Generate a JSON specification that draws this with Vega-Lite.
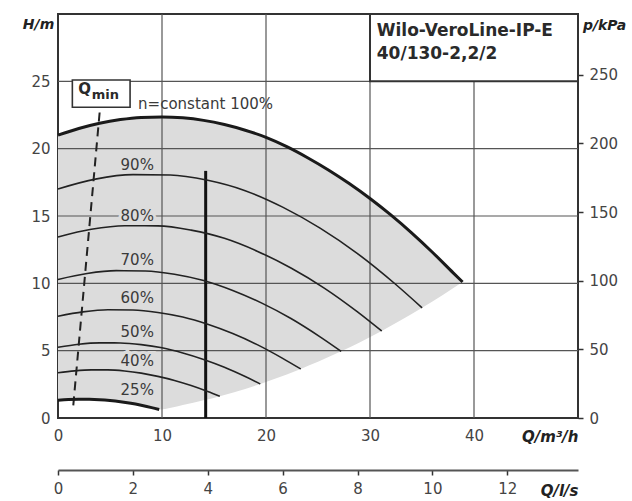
{
  "$schema": "https://vega.github.io/schema/vega-lite/v6.json",
  "width": 520,
  "height": 404,
  "autosize": {"type": "none"},
  "padding": {"left": 58, "top": 14, "right": 54, "bottom": 83},
  "background": "white",
  "config": {"view": {"stroke": "#333333", "strokeWidth": 2}, "font": "DejaVu Sans"},
  "datasets": {
    "area": [
      {"q": 0, "h": 21.0, "hb": 1.31}, {"q": 1, "h": 21.26, "hb": 1.37}, {"q": 2, "h": 21.5, "hb": 1.39},
      {"q": 3, "h": 21.71, "hb": 1.39}, {"q": 4, "h": 21.89, "hb": 1.36}, {"q": 5, "h": 22.04, "hb": 1.3},
      {"q": 6, "h": 22.16, "hb": 1.2}, {"q": 7, "h": 22.25, "hb": 1.08}, {"q": 8, "h": 22.32, "hb": 0.93},
      {"q": 9, "h": 22.35, "hb": 0.76}, {"q": 9.73, "h": 22.36, "hb": 0.63}, {"q": 12, "h": 22.29, "hb": 0.96},
      {"q": 14, "h": 22.1, "hb": 1.31}, {"q": 15.56, "h": 21.87, "hb": 1.62}, {"q": 18, "h": 21.37, "hb": 2.16},
      {"q": 19.45, "h": 20.99, "hb": 2.53}, {"q": 22, "h": 20.15, "hb": 3.23}, {"q": 23.34, "h": 19.6, "hb": 3.64},
      {"q": 25, "h": 18.88, "hb": 4.17}, {"q": 27.23, "h": 17.8, "hb": 4.95}, {"q": 29, "h": 16.87, "hb": 5.61},
      {"q": 31.12, "h": 15.62, "hb": 6.46}, {"q": 33, "h": 14.43, "hb": 7.27}, {"q": 35.01, "h": 13.05, "hb": 8.18},
      {"q": 37, "h": 11.55, "hb": 9.14}, {"q": 38.9, "h": 10.1, "hb": 10.1}
    ],
    "curves": [
      {"n": "100", "q": 0, "h": 21.0}, {"n": "100", "q": 2, "h": 21.5}, {"n": "100", "q": 4, "h": 21.89},
      {"n": "100", "q": 6, "h": 22.16}, {"n": "100", "q": 8, "h": 22.32}, {"n": "100", "q": 10, "h": 22.36},
      {"n": "100", "q": 12, "h": 22.29}, {"n": "100", "q": 14, "h": 22.1}, {"n": "100", "q": 16, "h": 21.79},
      {"n": "100", "q": 18, "h": 21.37}, {"n": "100", "q": 20, "h": 20.84}, {"n": "100", "q": 22, "h": 20.15},
      {"n": "100", "q": 24, "h": 19.33}, {"n": "100", "q": 26, "h": 18.42}, {"n": "100", "q": 28, "h": 17.41},
      {"n": "100", "q": 30, "h": 16.3}, {"n": "100", "q": 32, "h": 15.08}, {"n": "100", "q": 34, "h": 13.75},
      {"n": "100", "q": 36, "h": 12.31}, {"n": "100", "q": 38, "h": 10.78}, {"n": "100", "q": 38.9, "h": 10.1},
      {"n": "90", "q": 0, "h": 17.01}, {"n": "90", "q": 3.6, "h": 17.74}, {"n": "90", "q": 7.2, "h": 18.07},
      {"n": "90", "q": 10.8, "h": 18.05}, {"n": "90", "q": 14.4, "h": 17.65}, {"n": "90", "q": 18, "h": 16.88},
      {"n": "90", "q": 21.6, "h": 15.66}, {"n": "90", "q": 25.2, "h": 14.1}, {"n": "90", "q": 28.8, "h": 12.21},
      {"n": "90", "q": 32.4, "h": 9.97}, {"n": "90", "q": 35.01, "h": 8.18},
      {"n": "80", "q": 0, "h": 13.44}, {"n": "80", "q": 3.2, "h": 14.01}, {"n": "80", "q": 6.4, "h": 14.28},
      {"n": "80", "q": 9.6, "h": 14.27}, {"n": "80", "q": 12.8, "h": 13.95}, {"n": "80", "q": 16, "h": 13.34},
      {"n": "80", "q": 19.2, "h": 12.37}, {"n": "80", "q": 22.4, "h": 11.14}, {"n": "80", "q": 25.6, "h": 9.65},
      {"n": "80", "q": 28.8, "h": 7.88}, {"n": "80", "q": 31.12, "h": 6.46},
      {"n": "70", "q": 0, "h": 10.29}, {"n": "70", "q": 2.8, "h": 10.73}, {"n": "70", "q": 5.6, "h": 10.94},
      {"n": "70", "q": 8.4, "h": 10.92}, {"n": "70", "q": 11.2, "h": 10.68}, {"n": "70", "q": 14, "h": 10.21},
      {"n": "70", "q": 16.8, "h": 9.47}, {"n": "70", "q": 19.6, "h": 8.53}, {"n": "70", "q": 22.4, "h": 7.39},
      {"n": "70", "q": 25.2, "h": 6.03}, {"n": "70", "q": 27.23, "h": 4.95},
      {"n": "60", "q": 0, "h": 7.56}, {"n": "60", "q": 2.4, "h": 7.88}, {"n": "60", "q": 4.8, "h": 8.04},
      {"n": "60", "q": 7.2, "h": 8.02}, {"n": "60", "q": 9.6, "h": 7.84}, {"n": "60", "q": 12, "h": 7.5},
      {"n": "60", "q": 14.4, "h": 6.96}, {"n": "60", "q": 16.8, "h": 6.27}, {"n": "60", "q": 19.2, "h": 5.43},
      {"n": "60", "q": 21.6, "h": 4.43}, {"n": "60", "q": 23.34, "h": 3.64},
      {"n": "50", "q": 0, "h": 5.25}, {"n": "50", "q": 2, "h": 5.48}, {"n": "50", "q": 4, "h": 5.58},
      {"n": "50", "q": 6, "h": 5.57}, {"n": "50", "q": 8, "h": 5.45}, {"n": "50", "q": 10, "h": 5.21},
      {"n": "50", "q": 12, "h": 4.83}, {"n": "50", "q": 14, "h": 4.35}, {"n": "50", "q": 16, "h": 3.77},
      {"n": "50", "q": 18, "h": 3.08}, {"n": "50", "q": 19.45, "h": 2.53},
      {"n": "40", "q": 0, "h": 3.36}, {"n": "40", "q": 1.6, "h": 3.5}, {"n": "40", "q": 3.2, "h": 3.57},
      {"n": "40", "q": 4.8, "h": 3.57}, {"n": "40", "q": 6.4, "h": 3.49}, {"n": "40", "q": 8, "h": 3.33},
      {"n": "40", "q": 9.6, "h": 3.09}, {"n": "40", "q": 11.2, "h": 2.79}, {"n": "40", "q": 12.8, "h": 2.41},
      {"n": "40", "q": 14.4, "h": 1.97}, {"n": "40", "q": 15.56, "h": 1.62},
      {"n": "25", "q": 0, "h": 1.31}, {"n": "25", "q": 1, "h": 1.37}, {"n": "25", "q": 2, "h": 1.39},
      {"n": "25", "q": 3, "h": 1.39}, {"n": "25", "q": 4, "h": 1.36}, {"n": "25", "q": 5, "h": 1.3},
      {"n": "25", "q": 6, "h": 1.21}, {"n": "25", "q": 7, "h": 1.09}, {"n": "25", "q": 8, "h": 0.94},
      {"n": "25", "q": 9, "h": 0.77}, {"n": "25", "q": 9.73, "h": 0.63}
    ],
    "vgrid": [
      {"q": 10, "h": 0, "h2": 30}, {"q": 20, "h": 0, "h2": 30}, {"q": 30, "h": 0, "h2": 30}, {"q": 40, "h": 0, "h2": 30}
    ],
    "hgrid": [
      {"q": 0, "q2": 50, "h": 5}, {"q": 0, "q2": 50, "h": 10}, {"q": 0, "q2": 50, "h": 15},
      {"q": 0, "q2": 50, "h": 20}, {"q": 0, "q2": 50, "h": 25}
    ],
    "qmin": [{"q": 1.47, "h": 0.94}, {"q": 4.04, "h": 23.0}],
    "vline": [{"q": 14.2, "h": 0, "h2": 18.35}],
    "qminbox": [{"q": 1.38, "q2": 6.93, "h": 23.07, "h2": 25.1}],
    "titlebox": [{"q": 30, "q2": 50, "h": 25, "h2": 30}],
    "pct": [
      {"label": "90%", "q": 7.62, "h": 18.8},
      {"label": "80%", "q": 7.62, "h": 14.98},
      {"label": "70%", "q": 7.62, "h": 11.76},
      {"label": "60%", "q": 7.62, "h": 8.92},
      {"label": "50%", "q": 7.62, "h": 6.42},
      {"label": "40%", "q": 7.62, "h": 4.26},
      {"label": "25%", "q": 7.62, "h": 2.09}
    ],
    "nconst": [{"label": "n=constant 100%", "q": 7.7, "h": 23.32}],
    "title": [
      {"label": "Wilo-VeroLine-IP-E", "q": 30.65, "h": 28.75},
      {"label": "40/130-2,2/2", "q": 30.65, "h": 27.03}
    ],
    "qsym": [{"label": "Q", "q": 2.55, "h": 24.45}],
    "qsub": [{"label": "min", "q": 4.55, "h": 23.95}],
    "secondary": [{"qls": 0, "kpa": 0}, {"qls": 13.889, "kpa": 294.3}]
  },
  "layer": [
    {
      "encoding": {
        "x": {
          "field": "q", "type": "quantitative",
          "scale": {"domain": [0, 50], "nice": false, "zero": false},
          "axis": {
            "orient": "bottom", "values": [0, 10, 20, 30, 40], "grid": false, "ticks": false, "domain": false,
            "labelFlush": false,
            "labelFont": "DejaVu Sans", "labelFontSize": 15, "labelColor": "#444444", "labelPadding": 10,
            "title": "Q/m³/h", "titleFont": "DejaVu Sans", "titleFontSize": 15, "titleFontStyle": "italic",
            "titleFontWeight": "bold", "titleColor": "#222222", "titleAngle": 0, "titleAlign": "right",
            "titleBaseline": "middle", "titleX": 520, "titleY": 18
          }
        },
        "y": {
          "field": "h", "type": "quantitative",
          "scale": {"domain": [0, 30], "nice": false, "zero": false},
          "axis": {
            "orient": "left", "values": [0, 5, 10, 15, 20, 25], "grid": false, "ticks": false, "domain": false,
            "labelFont": "DejaVu Sans", "labelFontSize": 15, "labelColor": "#444444", "labelPadding": 8,
            "title": "H/m", "titleFont": "DejaVu Sans", "titleFontSize": 14, "titleFontStyle": "italic",
            "titleFontWeight": "bold", "titleColor": "#222222", "titleAngle": 0, "titleAlign": "center",
            "titleBaseline": "middle", "titleX": -20, "titleY": 10
          }
        }
      },
      "layer": [
        {
          "data": {"name": "area"},
          "mark": {"type": "area", "color": "#dcdcdc", "interpolate": "monotone"},
          "encoding": {"y2": {"field": "hb"}}
        },
        {
          "data": {"name": "vgrid"},
          "mark": {"type": "rule", "color": "#555555", "strokeWidth": 1.2},
          "encoding": {"y2": {"field": "h2"}}
        },
        {
          "data": {"name": "hgrid"},
          "mark": {"type": "rule", "color": "#555555", "strokeWidth": 1.2},
          "encoding": {"x2": {"field": "q2"}}
        },
        {
          "data": {"name": "titlebox"},
          "mark": {"type": "rect", "fill": "white", "stroke": "#333333", "strokeWidth": 2},
          "encoding": {"x2": {"field": "q2"}, "y2": {"field": "h2"}}
        },
        {
          "data": {"name": "qminbox"},
          "mark": {"type": "rect", "fill": "white", "stroke": "#333333", "strokeWidth": 1.6},
          "encoding": {"x2": {"field": "q2"}, "y2": {"field": "h2"}}
        },
        {
          "data": {"name": "qmin"},
          "mark": {"type": "line", "color": "#222222", "strokeWidth": 2, "strokeDash": [9, 6]},
          "encoding": {}
        },
        {
          "data": {"name": "vline"},
          "mark": {"type": "rule", "color": "#111111", "strokeWidth": 3},
          "encoding": {"y2": {"field": "h2"}}
        },
        {
          "data": {"name": "curves"},
          "transform": [{"filter": {"field": "n", "oneOf": ["90", "80", "70", "60", "50", "40"]}}],
          "mark": {"type": "line", "color": "#222222", "strokeWidth": 1.6, "interpolate": "monotone"},
          "encoding": {"detail": {"field": "n"}}
        },
        {
          "data": {"name": "curves"},
          "transform": [{"filter": {"field": "n", "oneOf": ["100", "25"]}}],
          "mark": {"type": "line", "color": "#1a1a1a", "strokeWidth": 3, "interpolate": "monotone"},
          "encoding": {"detail": {"field": "n"}}
        },
        {
          "data": {"name": "pct"},
          "mark": {"type": "text", "font": "DejaVu Sans", "fontSize": 15, "align": "center", "baseline": "middle", "stroke": "#dcdcdc", "strokeWidth": 6, "fill": "#dcdcdc"},
          "encoding": {"text": {"field": "label"}}
        },
        {
          "data": {"name": "pct"},
          "mark": {"type": "text", "font": "DejaVu Sans", "fontSize": 15, "align": "center", "baseline": "middle", "color": "#3a3a3a"},
          "encoding": {"text": {"field": "label"}}
        },
        {
          "data": {"name": "nconst"},
          "mark": {"type": "text", "font": "DejaVu Sans", "fontSize": 15, "align": "left", "baseline": "middle", "color": "#3a3a3a"},
          "encoding": {"text": {"field": "label"}}
        },
        {
          "data": {"name": "title"},
          "mark": {"type": "text", "font": "DejaVu Sans", "fontSize": 17, "fontWeight": "bold", "align": "left", "baseline": "middle", "color": "#2a2a2a"},
          "encoding": {"text": {"field": "label"}}
        },
        {
          "data": {"name": "qsym"},
          "mark": {"type": "text", "font": "DejaVu Sans", "fontSize": 15, "fontWeight": "bold", "align": "center", "baseline": "middle", "color": "#2a2a2a"},
          "encoding": {"text": {"field": "label"}}
        },
        {
          "data": {"name": "qsub"},
          "mark": {"type": "text", "font": "DejaVu Sans", "fontSize": 13, "fontWeight": "bold", "align": "center", "baseline": "middle", "color": "#2a2a2a"},
          "encoding": {"text": {"field": "label"}}
        }
      ]
    },
    {
      "data": {"name": "secondary"},
      "mark": {"type": "point", "opacity": 0},
      "encoding": {
        "x": {
          "field": "qls", "type": "quantitative",
          "scale": {"domain": [0, 13.889], "nice": false, "zero": false},
          "axis": {
            "orient": "bottom", "offset": 52, "values": [0, 2, 4, 6, 8, 10, 12], "grid": false,
            "labelFlush": false,
            "ticks": true, "tickSize": 5, "tickColor": "#333333", "tickWidth": 1.5,
            "domain": true, "domainColor": "#555555", "domainWidth": 2,
            "labelFont": "DejaVu Sans", "labelFontSize": 15, "labelColor": "#444444", "labelPadding": 6,
            "title": "Q/l/s", "titleFont": "DejaVu Sans", "titleFontSize": 15, "titleFontStyle": "italic",
            "titleFontWeight": "bold", "titleColor": "#222222", "titleAngle": 0, "titleAlign": "right",
            "titleBaseline": "middle", "titleX": 520, "titleY": 20
          }
        },
        "y": {
          "field": "kpa", "type": "quantitative",
          "scale": {"domain": [0, 294.3], "nice": false, "zero": false},
          "axis": {
            "orient": "right", "values": [0, 50, 100, 150, 200, 250], "grid": false,
            "ticks": true, "tickSize": 5, "tickColor": "#333333", "tickWidth": 1.5, "domain": false,
            "labelFont": "DejaVu Sans", "labelFontSize": 15, "labelColor": "#444444", "labelPadding": 6,
            "title": "p/kPa", "titleFont": "DejaVu Sans", "titleFontSize": 14, "titleFontStyle": "italic",
            "titleFontWeight": "bold", "titleColor": "#222222", "titleAngle": 0, "titleAlign": "center",
            "titleBaseline": "middle", "titleX": 26, "titleY": 11
          }
        }
      }
    }
  ],
  "resolve": {"scale": {"x": "independent", "y": "independent"}}
}
